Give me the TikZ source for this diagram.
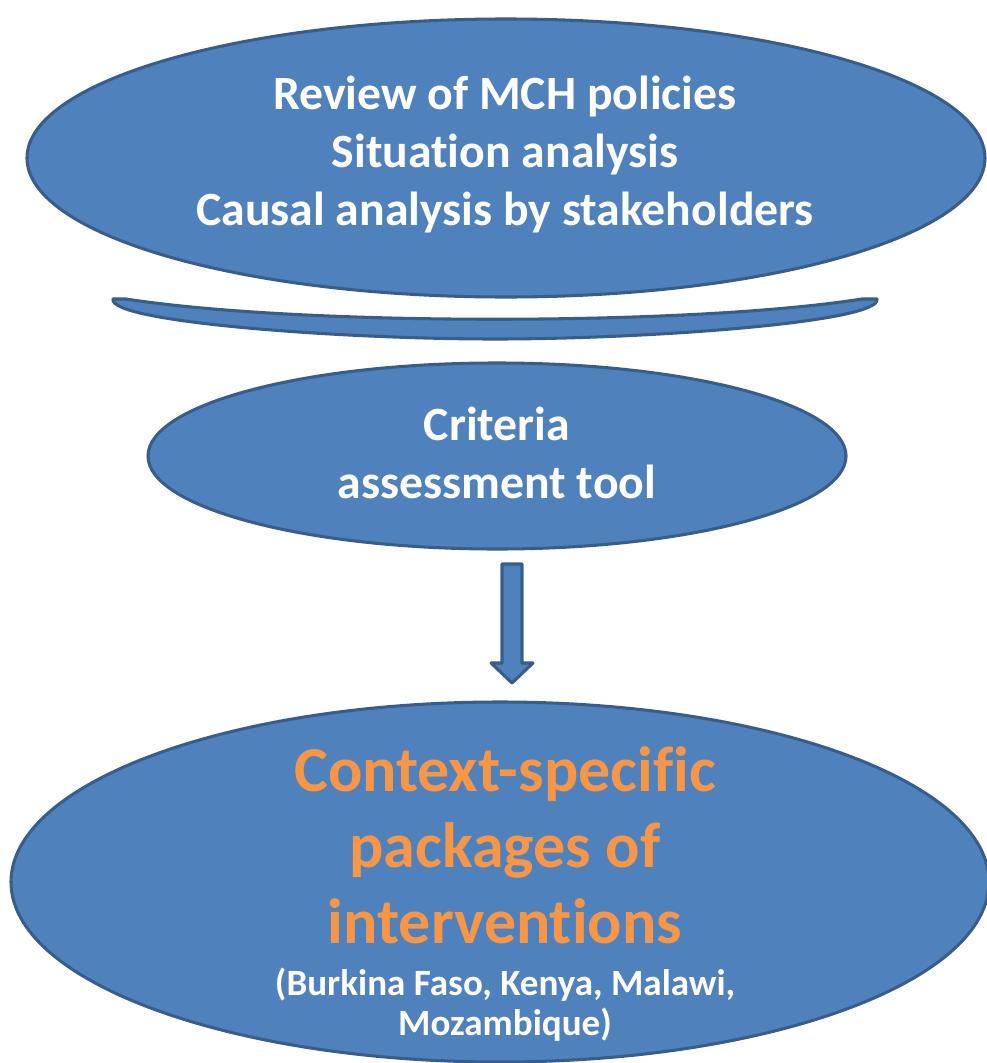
\documentclass[tikz,border=0pt]{standalone}
\usepackage{fontspec}
\setmainfont{Carlito}[Ligatures={NoCommon}]
\usetikzlibrary{shapes.geometric}
\definecolor{boxfill}{HTML}{4F81BD}
\definecolor{boxline}{HTML}{385D8A}
\definecolor{orangetxt}{HTML}{F79646}
\tikzset{
  blob/.style={ellipse, fill=boxfill, draw=boxline, line width=2.3pt, inner sep=0pt},
  shapeline/.style={fill=boxfill, draw=boxline, line width=2.3pt, line join=round},
  whitetxt/.style={text=white, font=\bfseries\fontsize{35.8}{43.5}\selectfont, align=center, inner sep=0pt},
}
\begin{document}
\begin{tikzpicture}[x=0.75pt,y=-0.75pt]
\path[use as bounding box] (0,0) rectangle (987,1063);
% top ellipse
\node[blob, minimum width=958*0.75pt, minimum height=278*0.75pt] (top) at (506,158) {};
\node[whitetxt] (toptext) at (505,155) {Review of MCH policies\\Situation analysis\\Causal analysis by stakeholders};
% curved bar
\draw[shapeline] (113,299) -- (126,299) .. controls (300,326) and (690,326) .. (862,299) -- (877,299)
  .. controls (882,322) and (650,339) .. (495,339) .. controls (340,339) and (108,322) .. (113,299) -- cycle;
% middle ellipse
\node[blob, minimum width=698*0.75pt, minimum height=186*0.75pt] (mid) at (497,456) {};
\node[whitetxt] (midtext) at (497,453) {Criteria\\assessment tool};
% arrow
\coordinate (arrtop) at (512,564);
\draw[shapeline] (502,564) -- (522,564) -- (522,663) -- (533,663) -- (512,683) -- (491,663) -- (502,663) -- cycle;
% bottom ellipse
\node[blob, minimum width=978*0.75pt, minimum height=360*0.75pt] (bot) at (500,882) {};
\node[text=orangetxt, font=\bfseries\fontsize{48}{57}\selectfont, align=center, inner sep=0pt] (bottext) at (505,845) {Context-specific\\packages of\\interventions};
\node[whitetxt, font=\bfseries\fontsize{27.8}{30}\selectfont] (countries) at (505,1005) {(Burkina Faso, Kenya, Malawi,\\Mozambique)};
\end{tikzpicture}
\end{document}
